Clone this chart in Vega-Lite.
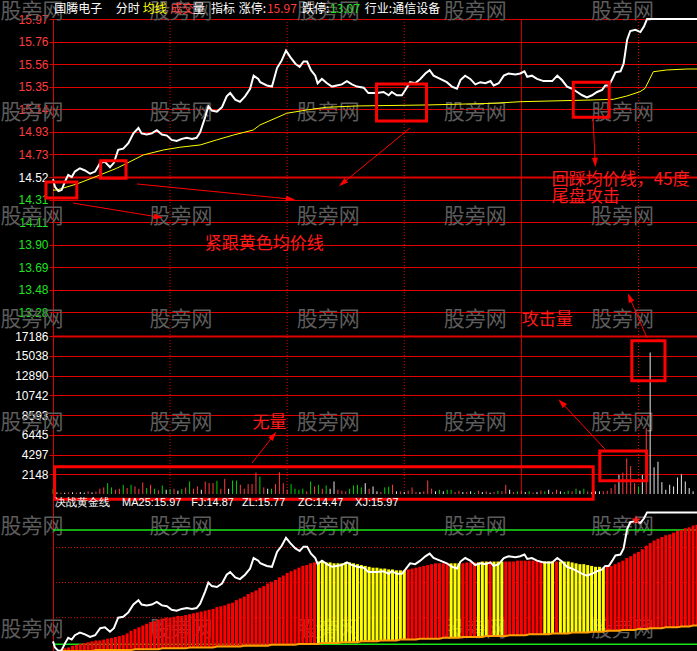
{
"$schema": "https://vega.github.io/schema/vega-lite/v6.json",
"background": "#000000",
"padding": {"left": 53, "top": 19, "right": 0, "bottom": 0},
"autosize": {"type": "none"},
"width": 644,
"height": 632,
"config": {"view": {"stroke": null}, "axis": {"title": null, "labelFont": "Liberation Sans", "labelFontSize": 12}, "text": {"font": "Noto Sans CJK SC"}},
"datasets": {
"price": [{"t":0,"p":14.50},{"t":0.5,"p":14.43},{"t":1.4,"p":14.39},{"t":2.2,"p":14.40},{"t":3.1,"p":14.48},{"t":3.9,"p":14.54},{"t":4.8,"p":14.52},{"t":5.6,"p":14.57},{"t":6.9,"p":14.60},{"t":8.2,"p":14.58},{"t":9.5,"p":14.55},{"t":10.8,"p":14.57},{"t":12.1,"p":14.65},{"t":13.3,"p":14.66},{"t":14.6,"p":14.61},{"t":15.6,"p":14.65},{"t":16.7,"p":14.77},{"t":18.0,"p":14.78},{"t":19.3,"p":14.83},{"t":20.6,"p":14.92},{"t":21.9,"p":14.97},{"t":22.7,"p":14.92},{"t":24.0,"p":14.91},{"t":25.3,"p":14.92},{"t":26.6,"p":14.95},{"t":27.9,"p":14.91},{"t":29.2,"p":14.90},{"t":30.4,"p":14.86},{"t":31.7,"p":14.85},{"t":33.0,"p":14.87},{"t":34.3,"p":14.88},{"t":35.6,"p":14.87},{"t":36.8,"p":14.88},{"t":37.7,"p":14.93},{"t":39.0,"p":15.07},{"t":39.8,"p":15.17},{"t":40.7,"p":15.13},{"t":42.0,"p":15.12},{"t":43.3,"p":15.16},{"t":44.5,"p":15.26},{"t":45.4,"p":15.29},{"t":46.7,"p":15.23},{"t":47.9,"p":15.21},{"t":49.2,"p":15.26},{"t":50.5,"p":15.33},{"t":51.4,"p":15.45},{"t":52.6,"p":15.42},{"t":53.1,"p":15.39},{"t":54.8,"p":15.36},{"t":56.1,"p":15.35},{"t":57.4,"p":15.52},{"t":58.6,"p":15.59},{"t":59.7,"p":15.68},{"t":60.8,"p":15.62},{"t":62.1,"p":15.56},{"t":63.2,"p":15.53},{"t":64.2,"p":15.58},{"t":65.1,"p":15.58},{"t":66.1,"p":15.50},{"t":67.2,"p":15.45},{"t":67.8,"p":15.38},{"t":68.9,"p":15.42},{"t":70.2,"p":15.38},{"t":71.5,"p":15.35},{"t":72.7,"p":15.36},{"t":74.0,"p":15.37},{"t":75.3,"p":15.40},{"t":76.6,"p":15.37},{"t":77.9,"p":15.35},{"t":79.6,"p":15.34},{"t":80.8,"p":15.29},{"t":83.0,"p":15.29},{"t":84.7,"p":15.30},{"t":86.0,"p":15.27},{"t":86.8,"p":15.30},{"t":88.1,"p":15.27},{"t":89.4,"p":15.27},{"t":90.3,"p":15.32},{"t":91.5,"p":15.39},{"t":92.8,"p":15.38},{"t":94.1,"p":15.42},{"t":95.4,"p":15.47},{"t":96.5,"p":15.50},{"t":97.5,"p":15.45},{"t":99.2,"p":15.42},{"t":100.9,"p":15.39},{"t":102.2,"p":15.35},{"t":103.5,"p":15.33},{"t":104.4,"p":15.41},{"t":105.6,"p":15.45},{"t":106.9,"p":15.42},{"t":108.2,"p":15.37},{"t":109.5,"p":15.39},{"t":110.8,"p":15.38},{"t":112.1,"p":15.40},{"t":112.9,"p":15.36},{"t":114.2,"p":15.38},{"t":115.5,"p":15.45},{"t":116.7,"p":15.47},{"t":118.5,"p":15.46},{"t":119.7,"p":15.47},{"t":120.8,"p":15.49},{"t":121.5,"p":15.44},{"t":122.7,"p":15.45},{"t":124.0,"p":15.42},{"t":125.7,"p":15.40},{"t":127.9,"p":15.40},{"t":129.2,"p":15.45},{"t":130.4,"p":15.41},{"t":131.7,"p":15.35},{"t":133.0,"p":15.33},{"t":134.3,"p":15.30},{"t":135.6,"p":15.27},{"t":136.8,"p":15.25},{"t":138.1,"p":15.27},{"t":139.4,"p":15.30},{"t":140.7,"p":15.32},{"t":141.5,"p":15.36},{"t":142.4,"p":15.36},{"t":143.3,"p":15.42},{"t":144.1,"p":15.48},{"t":145.4,"p":15.49},{"t":146.2,"p":15.56},{"t":147.1,"p":15.78},{"t":147.9,"p":15.86},{"t":149.2,"p":15.87},{"t":150.5,"p":15.85},{"t":151.4,"p":15.90},{"t":152.2,"p":15.97},{"t":165,"p":15.97}],
"avg": [{"t":0,"p":14.40},{"t":0.9,"p":14.40},{"t":6.1,"p":14.456},{"t":12.0,"p":14.538},{"t":16.3,"p":14.60},{"t":19.7,"p":14.66},{"t":23.1,"p":14.722},{"t":28.3,"p":14.768},{"t":32.5,"p":14.793},{"t":37.7,"p":14.814},{"t":41.9,"p":14.86},{"t":46.2,"p":14.905},{"t":51.3,"p":14.951},{"t":53.0,"p":14.997},{"t":59.9,"p":15.105},{"t":65.0,"p":15.135},{"t":70.1,"p":15.16},{"t":77.8,"p":15.172},{"t":95.7,"p":15.181},{"t":112.7,"p":15.196},{"t":119.7,"p":15.211},{"t":138.4,"p":15.227},{"t":143.6,"p":15.233},{"t":147.0,"p":15.263},{"t":150.4,"p":15.303},{"t":151.7,"p":15.334},{"t":153.8,"p":15.486},{"t":157.2,"p":15.502},{"t":162.4,"p":15.511},{"t":165,"p":15.511}],
"vol": [{"t":0,"v":573,"d":"down"},{"t":1,"v":180,"d":"flat"},{"t":2,"v":143,"d":"up"},{"t":3,"v":143,"d":"flat"},{"t":4,"v":180,"d":"up"},{"t":5,"v":180,"d":"flat"},{"t":6,"v":143,"d":"up"},{"t":7,"v":215,"d":"flat"},{"t":8,"v":143,"d":"flat"},{"t":9,"v":286,"d":"up"},{"t":10,"v":180,"d":"flat"},{"t":11,"v":250,"d":"up"},{"t":12,"v":573,"d":"up"},{"t":13,"v":716,"d":"up"},{"t":14,"v":1181,"d":"down"},{"t":15,"v":716,"d":"down"},{"t":16,"v":465,"d":"up"},{"t":17,"v":573,"d":"up"},{"t":18,"v":1002,"d":"down"},{"t":19,"v":644,"d":"up"},{"t":20,"v":1002,"d":"down"},{"t":21,"v":823,"d":"up"},{"t":22,"v":573,"d":"up"},{"t":23,"v":1253,"d":"up"},{"t":24,"v":644,"d":"down"},{"t":25,"v":1002,"d":"up"},{"t":26,"v":573,"d":"down"},{"t":27,"v":394,"d":"up"},{"t":28,"v":931,"d":"down"},{"t":29,"v":465,"d":"flat"},{"t":30,"v":537,"d":"down"},{"t":31,"v":573,"d":"up"},{"t":32,"v":358,"d":"flat"},{"t":33,"v":537,"d":"down"},{"t":34,"v":716,"d":"up"},{"t":35,"v":1360,"d":"down"},{"t":36,"v":573,"d":"up"},{"t":37,"v":823,"d":"up"},{"t":38,"v":465,"d":"flat"},{"t":39,"v":1360,"d":"up"},{"t":40,"v":1181,"d":"up"},{"t":41,"v":1181,"d":"up"},{"t":42,"v":1432,"d":"down"},{"t":43,"v":573,"d":"up"},{"t":44,"v":1647,"d":"up"},{"t":45,"v":573,"d":"flat"},{"t":46,"v":1468,"d":"down"},{"t":47,"v":1468,"d":"down"},{"t":48,"v":1002,"d":"up"},{"t":49,"v":573,"d":"up"},{"t":50,"v":1074,"d":"up"},{"t":51,"v":1074,"d":"up"},{"t":52,"v":2327,"d":"up"},{"t":53,"v":1897,"d":"down"},{"t":54,"v":716,"d":"up"},{"t":55,"v":573,"d":"flat"},{"t":56,"v":573,"d":"down"},{"t":57,"v":1074,"d":"up"},{"t":58,"v":2363,"d":"up"},{"t":59,"v":1181,"d":"up"},{"t":60,"v":465,"d":"up"},{"t":61,"v":1074,"d":"down"},{"t":62,"v":573,"d":"down"},{"t":63,"v":465,"d":"down"},{"t":64,"v":573,"d":"down"},{"t":65,"v":286,"d":"up"},{"t":66,"v":1360,"d":"down"},{"t":67,"v":823,"d":"up"},{"t":68,"v":1002,"d":"down"},{"t":69,"v":573,"d":"up"},{"t":70,"v":931,"d":"down"},{"t":71,"v":573,"d":"flat"},{"t":72,"v":1360,"d":"flat"},{"t":73,"v":465,"d":"up"},{"t":74,"v":358,"d":"up"},{"t":75,"v":286,"d":"up"},{"t":76,"v":573,"d":"down"},{"t":77,"v":931,"d":"down"},{"t":78,"v":1002,"d":"down"},{"t":79,"v":716,"d":"down"},{"t":80,"v":1181,"d":"flat"},{"t":81,"v":573,"d":"up"},{"t":82,"v":823,"d":"flat"},{"t":83,"v":286,"d":"flat"},{"t":84,"v":215,"d":"up"},{"t":85,"v":716,"d":"down"},{"t":86,"v":788,"d":"down"},{"t":87,"v":1002,"d":"up"},{"t":88,"v":286,"d":"flat"},{"t":89,"v":286,"d":"up"},{"t":90,"v":215,"d":"flat"},{"t":91,"v":358,"d":"up"},{"t":92,"v":716,"d":"up"},{"t":93,"v":215,"d":"up"},{"t":94,"v":215,"d":"flat"},{"t":95,"v":286,"d":"up"},{"t":96,"v":1468,"d":"up"},{"t":97,"v":573,"d":"up"},{"t":98,"v":286,"d":"flat"},{"t":99,"v":465,"d":"down"},{"t":100,"v":286,"d":"flat"},{"t":101,"v":465,"d":"down"},{"t":102,"v":465,"d":"down"},{"t":103,"v":215,"d":"up"},{"t":104,"v":358,"d":"up"},{"t":105,"v":215,"d":"flat"},{"t":106,"v":215,"d":"up"},{"t":107,"v":286,"d":"flat"},{"t":108,"v":143,"d":"down"},{"t":109,"v":358,"d":"up"},{"t":110,"v":215,"d":"flat"},{"t":111,"v":286,"d":"up"},{"t":112,"v":143,"d":"flat"},{"t":113,"v":215,"d":"up"},{"t":114,"v":358,"d":"down"},{"t":115,"v":286,"d":"up"},{"t":116,"v":1002,"d":"up"},{"t":117,"v":465,"d":"flat"},{"t":118,"v":215,"d":"up"},{"t":119,"v":286,"d":"down"},{"t":120,"v":358,"d":"up"},{"t":121,"v":215,"d":"flat"},{"t":122,"v":286,"d":"down"},{"t":123,"v":143,"d":"up"},{"t":124,"v":215,"d":"flat"},{"t":125,"v":358,"d":"up"},{"t":126,"v":286,"d":"down"},{"t":127,"v":465,"d":"flat"},{"t":128,"v":215,"d":"up"},{"t":129,"v":465,"d":"up"},{"t":130,"v":286,"d":"flat"},{"t":131,"v":215,"d":"down"},{"t":132,"v":358,"d":"down"},{"t":133,"v":286,"d":"up"},{"t":134,"v":573,"d":"down"},{"t":135,"v":358,"d":"flat"},{"t":136,"v":573,"d":"down"},{"t":137,"v":286,"d":"up"},{"t":138,"v":215,"d":"flat"},{"t":139,"v":286,"d":"flat"},{"t":140,"v":290,"d":"flat"},{"t":141,"v":290,"d":"up"},{"t":142,"v":355,"d":"up"},{"t":143,"v":644,"d":"up"},{"t":144,"v":1074,"d":"up"},{"t":145,"v":2076,"d":"flat"},{"t":146,"v":2327,"d":"up"},{"t":147,"v":3866,"d":"up"},{"t":148,"v":3043,"d":"up"},{"t":149,"v":1181,"d":"up"},{"t":150,"v":823,"d":"down"},{"t":151,"v":2076,"d":"flat"},{"t":152,"v":7160,"d":"up"},{"t":153,"v":15395,"d":"flat"},{"t":154,"v":2900,"d":"flat"},{"t":155,"v":3508,"d":"flat"},{"t":156,"v":1289,"d":"flat"},{"t":157,"v":465,"d":"flat"},{"t":158,"v":1002,"d":"flat"},{"t":159,"v":823,"d":"flat"},{"t":160,"v":1790,"d":"flat"},{"t":161,"v":2148,"d":"flat"},{"t":162,"v":1360,"d":"flat"},{"t":163,"v":644,"d":"flat"},{"t":164,"v":286,"d":"flat"}],
"gold": [{"t":1,"lo":14.39,"hi":14.39,"k":"up"},{"t":2,"lo":14.39,"hi":14.40,"k":"up"},{"t":3,"lo":14.39,"hi":14.42,"k":"up"},{"t":4,"lo":14.39,"hi":14.43,"k":"up"},{"t":5,"lo":14.39,"hi":14.45,"k":"up"},{"t":6,"lo":14.39,"hi":14.46,"k":"up"},{"t":7,"lo":14.39,"hi":14.47,"k":"up"},{"t":8,"lo":14.39,"hi":14.48,"k":"up"},{"t":9,"lo":14.39,"hi":14.49,"k":"up"},{"t":10,"lo":14.39,"hi":14.50,"k":"up"},{"t":11,"lo":14.40,"hi":14.51,"k":"up"},{"t":12,"lo":14.40,"hi":14.51,"k":"up"},{"t":13,"lo":14.40,"hi":14.52,"k":"up"},{"t":14,"lo":14.40,"hi":14.53,"k":"up"},{"t":15,"lo":14.40,"hi":14.54,"k":"up"},{"t":16,"lo":14.40,"hi":14.55,"k":"up"},{"t":17,"lo":14.40,"hi":14.56,"k":"up"},{"t":18,"lo":14.40,"hi":14.57,"k":"up"},{"t":19,"lo":14.40,"hi":14.59,"k":"up"},{"t":20,"lo":14.40,"hi":14.62,"k":"up"},{"t":21,"lo":14.41,"hi":14.64,"k":"up"},{"t":22,"lo":14.41,"hi":14.66,"k":"up"},{"t":23,"lo":14.41,"hi":14.68,"k":"up"},{"t":24,"lo":14.41,"hi":14.70,"k":"up"},{"t":25,"lo":14.41,"hi":14.72,"k":"up"},{"t":26,"lo":14.41,"hi":14.73,"k":"up"},{"t":27,"lo":14.41,"hi":14.75,"k":"up"},{"t":28,"lo":14.42,"hi":14.76,"k":"up"},{"t":29,"lo":14.42,"hi":14.77,"k":"up"},{"t":30,"lo":14.42,"hi":14.77,"k":"up"},{"t":31,"lo":14.42,"hi":14.78,"k":"up"},{"t":32,"lo":14.42,"hi":14.79,"k":"up"},{"t":33,"lo":14.42,"hi":14.79,"k":"up"},{"t":34,"lo":14.42,"hi":14.80,"k":"up"},{"t":35,"lo":14.43,"hi":14.81,"k":"up"},{"t":36,"lo":14.43,"hi":14.82,"k":"up"},{"t":37,"lo":14.43,"hi":14.83,"k":"up"},{"t":38,"lo":14.43,"hi":14.84,"k":"up"},{"t":39,"lo":14.43,"hi":14.85,"k":"up"},{"t":40,"lo":14.43,"hi":14.86,"k":"up"},{"t":41,"lo":14.43,"hi":14.87,"k":"up"},{"t":42,"lo":14.44,"hi":14.89,"k":"up"},{"t":43,"lo":14.44,"hi":14.90,"k":"up"},{"t":44,"lo":14.44,"hi":14.91,"k":"up"},{"t":45,"lo":14.44,"hi":14.93,"k":"up"},{"t":46,"lo":14.44,"hi":14.94,"k":"up"},{"t":47,"lo":14.44,"hi":14.97,"k":"up"},{"t":48,"lo":14.44,"hi":14.99,"k":"up"},{"t":49,"lo":14.45,"hi":15.01,"k":"up"},{"t":50,"lo":14.45,"hi":15.04,"k":"up"},{"t":51,"lo":14.45,"hi":15.06,"k":"up"},{"t":52,"lo":14.45,"hi":15.08,"k":"up"},{"t":53,"lo":14.45,"hi":15.11,"k":"up"},{"t":54,"lo":14.45,"hi":15.13,"k":"up"},{"t":55,"lo":14.45,"hi":15.16,"k":"up"},{"t":56,"lo":14.46,"hi":15.18,"k":"up"},{"t":57,"lo":14.46,"hi":15.20,"k":"up"},{"t":58,"lo":14.46,"hi":15.23,"k":"up"},{"t":59,"lo":14.46,"hi":15.25,"k":"up"},{"t":60,"lo":14.46,"hi":15.28,"k":"up"},{"t":61,"lo":14.46,"hi":15.30,"k":"up"},{"t":62,"lo":14.46,"hi":15.32,"k":"up"},{"t":63,"lo":14.47,"hi":15.34,"k":"up"},{"t":64,"lo":14.47,"hi":15.36,"k":"up"},{"t":65,"lo":14.47,"hi":15.37,"k":"up"},{"t":66,"lo":14.47,"hi":15.39,"k":"up"},{"t":67,"lo":14.47,"hi":15.40,"k":"up"},{"t":68,"lo":14.47,"hi":15.41,"k":"dn"},{"t":69,"lo":14.48,"hi":15.41,"k":"dn"},{"t":70,"lo":14.48,"hi":15.40,"k":"dn"},{"t":71,"lo":14.48,"hi":15.40,"k":"dn"},{"t":72,"lo":14.48,"hi":15.39,"k":"dn"},{"t":73,"lo":14.48,"hi":15.39,"k":"dn"},{"t":74,"lo":14.49,"hi":15.39,"k":"dn"},{"t":75,"lo":14.49,"hi":15.40,"k":"dn"},{"t":76,"lo":14.49,"hi":15.40,"k":"dn"},{"t":77,"lo":14.49,"hi":15.39,"k":"dn"},{"t":78,"lo":14.49,"hi":15.38,"k":"dn"},{"t":79,"lo":14.50,"hi":15.37,"k":"dn"},{"t":80,"lo":14.50,"hi":15.36,"k":"dn"},{"t":81,"lo":14.50,"hi":15.35,"k":"dn"},{"t":82,"lo":14.50,"hi":15.34,"k":"dn"},{"t":83,"lo":14.50,"hi":15.34,"k":"dn"},{"t":84,"lo":14.51,"hi":15.33,"k":"dn"},{"t":85,"lo":14.51,"hi":15.33,"k":"dn"},{"t":86,"lo":14.51,"hi":15.32,"k":"dn"},{"t":87,"lo":14.51,"hi":15.32,"k":"dn"},{"t":88,"lo":14.51,"hi":15.31,"k":"dn"},{"t":89,"lo":14.52,"hi":15.31,"k":"dn"},{"t":90,"lo":14.52,"hi":15.31,"k":"dn"},{"t":91,"lo":14.52,"hi":15.32,"k":"up"},{"t":92,"lo":14.52,"hi":15.33,"k":"up"},{"t":93,"lo":14.52,"hi":15.34,"k":"up"},{"t":94,"lo":14.53,"hi":15.35,"k":"up"},{"t":95,"lo":14.53,"hi":15.36,"k":"up"},{"t":96,"lo":14.53,"hi":15.37,"k":"up"},{"t":97,"lo":14.53,"hi":15.38,"k":"up"},{"t":98,"lo":14.53,"hi":15.39,"k":"up"},{"t":99,"lo":14.53,"hi":15.39,"k":"up"},{"t":100,"lo":14.54,"hi":15.39,"k":"up"},{"t":101,"lo":14.54,"hi":15.39,"k":"up"},{"t":102,"lo":14.54,"hi":15.39,"k":"dn"},{"t":103,"lo":14.54,"hi":15.39,"k":"dn"},{"t":104,"lo":14.54,"hi":15.39,"k":"dn"},{"t":105,"lo":14.55,"hi":15.39,"k":"up"},{"t":106,"lo":14.55,"hi":15.40,"k":"up"},{"t":107,"lo":14.55,"hi":15.40,"k":"up"},{"t":108,"lo":14.55,"hi":15.40,"k":"up"},{"t":109,"lo":14.55,"hi":15.40,"k":"dn"},{"t":110,"lo":14.55,"hi":15.41,"k":"dn"},{"t":111,"lo":14.56,"hi":15.41,"k":"dn"},{"t":112,"lo":14.56,"hi":15.41,"k":"up"},{"t":113,"lo":14.56,"hi":15.41,"k":"dn"},{"t":114,"lo":14.56,"hi":15.41,"k":"dn"},{"t":115,"lo":14.56,"hi":15.41,"k":"dn"},{"t":116,"lo":14.56,"hi":15.41,"k":"up"},{"t":117,"lo":14.57,"hi":15.41,"k":"up"},{"t":118,"lo":14.57,"hi":15.41,"k":"up"},{"t":119,"lo":14.57,"hi":15.42,"k":"up"},{"t":120,"lo":14.57,"hi":15.42,"k":"up"},{"t":121,"lo":14.57,"hi":15.42,"k":"up"},{"t":122,"lo":14.58,"hi":15.42,"k":"up"},{"t":123,"lo":14.58,"hi":15.42,"k":"up"},{"t":124,"lo":14.58,"hi":15.42,"k":"up"},{"t":125,"lo":14.58,"hi":15.41,"k":"up"},{"t":126,"lo":14.58,"hi":15.41,"k":"dn"},{"t":127,"lo":14.58,"hi":15.41,"k":"dn"},{"t":128,"lo":14.59,"hi":15.41,"k":"dn"},{"t":129,"lo":14.59,"hi":15.41,"k":"up"},{"t":130,"lo":14.59,"hi":15.41,"k":"dn"},{"t":131,"lo":14.59,"hi":15.41,"k":"dn"},{"t":132,"lo":14.59,"hi":15.41,"k":"dn"},{"t":133,"lo":14.60,"hi":15.40,"k":"dn"},{"t":134,"lo":14.60,"hi":15.39,"k":"dn"},{"t":135,"lo":14.60,"hi":15.38,"k":"dn"},{"t":136,"lo":14.60,"hi":15.38,"k":"dn"},{"t":137,"lo":14.60,"hi":15.37,"k":"dn"},{"t":138,"lo":14.61,"hi":15.36,"k":"dn"},{"t":139,"lo":14.61,"hi":15.35,"k":"dn"},{"t":140,"lo":14.61,"hi":15.35,"k":"dn"},{"t":141,"lo":14.61,"hi":15.34,"k":"dn"},{"t":142,"lo":14.62,"hi":15.35,"k":"up"},{"t":143,"lo":14.62,"hi":15.36,"k":"up"},{"t":144,"lo":14.62,"hi":15.38,"k":"up"},{"t":145,"lo":14.62,"hi":15.40,"k":"up"},{"t":146,"lo":14.63,"hi":15.42,"k":"up"},{"t":147,"lo":14.63,"hi":15.45,"k":"up"},{"t":148,"lo":14.63,"hi":15.47,"k":"up"},{"t":149,"lo":14.63,"hi":15.50,"k":"up"},{"t":150,"lo":14.64,"hi":15.52,"k":"up"},{"t":151,"lo":14.64,"hi":15.55,"k":"up"},{"t":152,"lo":14.64,"hi":15.59,"k":"up"},{"t":153,"lo":14.65,"hi":15.62,"k":"up"},{"t":154,"lo":14.65,"hi":15.65,"k":"up"},{"t":155,"lo":14.65,"hi":15.67,"k":"up"},{"t":156,"lo":14.65,"hi":15.69,"k":"up"},{"t":157,"lo":14.66,"hi":15.71,"k":"up"},{"t":158,"lo":14.66,"hi":15.72,"k":"up"},{"t":159,"lo":14.66,"hi":15.74,"k":"up"},{"t":160,"lo":14.66,"hi":15.76,"k":"up"},{"t":161,"lo":14.67,"hi":15.77,"k":"up"},{"t":162,"lo":14.67,"hi":15.79,"k":"up"},{"t":163,"lo":14.67,"hi":15.80,"k":"up"},{"t":164,"lo":14.68,"hi":15.82,"k":"up"},{"t":165,"lo":14.68,"hi":15.83,"k":"up"}],
"vg": [{"t":30,"s":"dot"},{"t":60,"s":"dot"},{"t":90,"s":"dot"},{"t":120,"s":"solid"},{"t":150,"s":"dot"}],
"wm1": [{"t":-5.4,"p":16.034},{"t":32.8,"p":16.034},{"t":70.5,"p":16.034},{"t":108.2,"p":16.034},{"t":145.9,"p":16.034},{"t":-5.4,"p":15.107},{"t":32.8,"p":15.107},{"t":70.5,"p":15.107},{"t":108.2,"p":15.107},{"t":145.9,"p":15.107},{"t":-5.4,"p":14.153},{"t":32.8,"p":14.153},{"t":70.5,"p":14.153},{"t":108.2,"p":14.153},{"t":145.9,"p":14.153},{"t":-5.4,"p":13.208},{"t":32.8,"p":13.208},{"t":70.5,"p":13.208},{"t":108.2,"p":13.208},{"t":145.9,"p":13.208}],
"wm2": [{"t":-5.4,"v":7674},{"t":32.8,"v":7674},{"t":70.5,"v":7674},{"t":108.2,"v":7674},{"t":145.9,"v":7674}],
"wm3": [{"t":-5.4,"p":15.804},{"t":32.8,"p":15.804},{"t":70.5,"p":15.804},{"t":108.2,"p":15.804},{"t":145.9,"p":15.804},{"t":-5.4,"p":14.629},{"t":32.8,"p":14.629},{"t":70.5,"p":14.629},{"t":108.2,"p":14.629},{"t":145.9,"p":14.629}],
"hdr": [{"t":0.3,"s":"国腾电子","kind":"flat"},{"t":16.1,"s":"分时","kind":"flat"},{"t":23.0,"s":"均线","kind":"avg"},{"t":30.0,"s":"成交","kind":"up"},{"t":35.9,"s":"量","kind":"flat"},{"t":40.5,"s":"指标","kind":"flat"},{"t":47.6,"s":"涨停:","kind":"flat"},{"t":54.8,"s":"15.97","kind":"up"},{"t":63.8,"s":"跌停:","kind":"flat"},{"t":71.0,"s":"13.07","kind":"down"},{"t":79.9,"s":"行业:通信设备","kind":"flat"}],
"box1": [{"t":-1.8,"t2":6.1,"p":14.474,"p2":14.327},{"t":12.2,"t2":18.7,"p":14.670,"p2":14.508},{"t":82.9,"t2":95.7,"p":15.373,"p2":15.034},{"t":133.3,"t2":142.5,"p":15.389,"p2":15.068}],
"box2": [{"t":0.4,"t2":138.4,"v":2970,"v2":-577},{"t":140.1,"t2":152.1,"v":4678,"v2":1447},{"t":148.3,"t2":156.8,"v":16679,"v2":12327}],
"arr1": [{"t":5.1,"p":14.281,"t2":26.9,"p2":14.153,"deg":99},{"t":21.5,"p":14.456,"t2":60.7,"p2":14.318,"deg":96},{"t":91.5,"p":14.970,"t2":74.3,"p2":14.465,"deg":231},{"t":138.4,"p":15.043,"t2":138.9,"p2":14.658,"deg":177}],
"arr2": [{"t":51.0,"v":3373,"t2":56.4,"v2":6310,"deg":38},{"t":141.4,"v":4896,"t2":130.4,"v2":9901,"deg":317},{"t":152.2,"v":16973,"t2":147.8,"v2":21325,"deg":337}],
"note1": [{"t":38.9,"p":13.905,"s":"紧跟黄色均价线"},{"t":127.8,"p":14.488,"s":"回踩均价线，45度"},{"t":127.8,"p":14.332,"s":"尾盘攻击"},{"t":120.1,"p":13.208,"s":"攻击量"}],
"note2": [{"t":51.1,"v":7779,"s":"无量"}],
"ttl3": [{"t":0.5,"s":"决战黄金线"},{"t":17.7,"s":"MA25:15.97"},{"t":35.4,"s":"FJ:14.87"},{"t":48.4,"s":"ZL:15.77"},{"t":62.8,"s":"ZC:14.47"},{"t":77.4,"s":"XJ:15.97"}],
"lvl3g": [{"t":0,"t2":165,"p":15.77},{"t":0,"t2":165,"p":14.466}],
"lvl3r": [{"t":0,"t2":165,"p":15.57},{"t":0,"t2":165,"p":15.17},{"t":0,"t2":165,"p":14.77}],
"star3": [{"t":149.4,"p":15.883}]
},
"encoding": {"x": {"field": "t", "type": "quantitative", "scale": {"domain": [0, 165], "nice": false, "zero": false}, "axis": null}},
"resolve": {"scale": {"y": "independent", "color": "independent"}, "axis": {"y": "independent"}},
"layer": [
{
"layer": [
{"data": {"name": "wm1"}, "mark": {"type": "text", "text": "股旁网", "fontSize": 21, "color": "#5c5c5c", "clip": false, "baseline": "middle", "align": "center"},
 "encoding": {
  "y": {"field": "p", "type": "quantitative", "scale": {"domain": [13.07, 15.97], "range": [316, 0], "nice": false, "zero": false},
        "axis": {"orient": "left", "values": [15.97, 15.7629, 15.5557, 15.3486, 15.1414, 14.9343, 14.7271, 14.52, 14.3129, 14.1057, 13.8986, 13.6914, 13.4843, 13.2771], "format": ".2f", "domainColor": "#e00000", "tickColor": "#e00000", "tickSize": 4, "labelPadding": 1, "labelOverlap": false,
                 "labelColor": {"condition": [{"test": "datum.value > 14.53", "value": "#ff3c3c"}, {"test": "datum.value < 14.51", "value": "#22e022"}], "value": "#ffffff"},
                 "grid": true, "gridColor": "#e00000", "gridWidth": {"condition": {"test": "abs(datum.value - 14.52) < 0.001", "value": 2}, "value": 1}, "title": null}}
 }},
{"data": {"name": "vg"}, "mark": {"type": "rule", "color": "#e00000", "strokeWidth": 1},
 "encoding": {"y": {"datum": 13.07, "type": "quantitative"}, "y2": {"datum": 15.97},
  "strokeDash": {"field": "s", "type": "nominal", "scale": {"domain": ["dot", "solid"], "range": [[1, 2], [1, 0]]}, "legend": null}}},
{"data": {"name": "avg"}, "mark": {"type": "line", "color": "#ffff00", "strokeWidth": 1},
 "encoding": {"y": {"field": "p", "type": "quantitative"}}},
{"data": {"name": "price"}, "mark": {"type": "line", "color": "#ffffff", "strokeWidth": 2},
 "encoding": {"y": {"field": "p", "type": "quantitative"}}},
{"data": {"name": "box1"}, "mark": {"type": "rect", "fillOpacity": 0, "stroke": "#ff0000", "strokeWidth": 3, "clip": false},
 "encoding": {"x2": {"field": "t2"}, "y": {"field": "p", "type": "quantitative"}, "y2": {"field": "p2"}}},
{"data": {"name": "arr1"}, "mark": {"type": "rule", "color": "#ff0000", "strokeWidth": 1, "clip": false},
 "encoding": {"x2": {"field": "t2"}, "y": {"field": "p", "type": "quantitative"}, "y2": {"field": "p2"}}},
{"data": {"name": "arr1"}, "mark": {"type": "point", "shape": "M0,-1L0.55,0.8L-0.55,0.8Z", "filled": true, "color": "#ff0000", "opacity": 1, "size": 110, "clip": false},
 "encoding": {"x": {"field": "t2", "type": "quantitative", "axis": null}, "y": {"field": "p2", "type": "quantitative"}, "angle": {"field": "deg", "type": "quantitative", "scale": null}}},
{"data": {"name": "note1"}, "mark": {"type": "text", "fontSize": 17, "color": "#ff1a1a", "align": "left", "baseline": "middle", "clip": false},
 "encoding": {"y": {"field": "p", "type": "quantitative"}, "text": {"field": "s"}}},
{"data": {"name": "hdr"}, "mark": {"type": "text", "fontSize": 12, "align": "left", "baseline": "middle", "clip": false},
 "encoding": {"y": {"datum": 16.062, "type": "quantitative"}, "text": {"field": "s"},
  "color": {"field": "kind", "type": "nominal", "scale": {"domain": ["up", "down", "flat", "avg"], "range": ["#ff3c3c", "#22e022", "#ffffff", "#ffff00"]}, "legend": null}}}
]
},
{
"layer": [
{"data": {"name": "wm2"}, "mark": {"type": "text", "text": "股旁网", "fontSize": 21, "color": "#5c5c5c", "clip": false, "baseline": "middle", "align": "center"},
 "encoding": {
  "y": {"field": "v", "type": "quantitative", "scale": {"domain": [0, 17300], "range": [475, 316], "nice": false, "zero": false},
        "axis": {"orient": "left", "values": [2148, 4297, 6445, 8593, 10742, 12890, 15038, 17186], "format": "d", "domainColor": "#e00000", "tickColor": "#e00000", "tickSize": 4, "labelPadding": 1, "labelOverlap": false, "labelColor": "#ffffff",
                 "grid": true, "gridColor": "#e00000", "gridWidth": {"condition": {"test": "datum.value == 17186", "value": 2}, "value": 1}, "title": null}}
 }},
{"data": {"name": "vg"}, "mark": {"type": "rule", "color": "#e00000", "strokeWidth": 1},
 "encoding": {"y": {"datum": 0, "type": "quantitative"}, "y2": {"datum": 17300},
  "strokeDash": {"field": "s", "type": "nominal", "scale": {"domain": ["dot", "solid"], "range": [[1, 2], [1, 0]]}, "legend": null}}},
{"data": {"name": "vol"}, "mark": {"type": "rule", "strokeWidth": 1},
 "encoding": {"y": {"field": "v", "type": "quantitative"}, "y2": {"datum": 0},
  "color": {"field": "d", "type": "nominal", "scale": {"domain": ["up", "down", "flat"], "range": ["#ff3c3c", "#00d000", "#e6e6e6"]}, "legend": null}}},
{"data": {"name": "box2"}, "mark": {"type": "rect", "fillOpacity": 0, "stroke": "#ff0000", "strokeWidth": 3, "clip": false},
 "encoding": {"x2": {"field": "t2"}, "y": {"field": "v", "type": "quantitative"}, "y2": {"field": "v2"}}},
{"data": {"name": "arr2"}, "mark": {"type": "rule", "color": "#ff0000", "strokeWidth": 1, "clip": false},
 "encoding": {"x2": {"field": "t2"}, "y": {"field": "v", "type": "quantitative"}, "y2": {"field": "v2"}}},
{"data": {"name": "arr2"}, "mark": {"type": "point", "shape": "M0,-1L0.55,0.8L-0.55,0.8Z", "filled": true, "color": "#ff0000", "opacity": 1, "size": 110, "clip": false},
 "encoding": {"x": {"field": "t2", "type": "quantitative", "axis": null}, "y": {"field": "v2", "type": "quantitative"}, "angle": {"field": "deg", "type": "quantitative", "scale": null}}},
{"data": {"name": "note2"}, "mark": {"type": "text", "fontSize": 17, "color": "#ff1a1a", "align": "left", "baseline": "middle", "clip": false},
 "encoding": {"y": {"field": "v", "type": "quantitative"}, "text": {"field": "s"}}}
]
},
{
"layer": [
{"data": {"name": "wm3"}, "mark": {"type": "text", "text": "股旁网", "fontSize": 21, "color": "#5c5c5c", "clip": false, "baseline": "middle", "align": "center"},
 "encoding": {
  "y": {"field": "p", "type": "quantitative", "scale": {"domain": [14.39, 16.18], "range": [632, 475], "nice": false, "zero": false},
        "axis": {"orient": "left", "labels": false, "ticks": false, "grid": false, "domainColor": "#e00000", "title": null}}
 }},
{"data": {"name": "lvl3g"}, "mark": {"type": "rule", "color": "#19e619", "strokeWidth": 1.5},
 "encoding": {"x2": {"field": "t2"}, "y": {"field": "p", "type": "quantitative"}}},
{"data": {"name": "lvl3r"}, "mark": {"type": "rule", "color": "#e00000", "strokeWidth": 1, "strokeDash": [1, 2]},
 "encoding": {"x2": {"field": "t2"}, "y": {"field": "p", "type": "quantitative"}}},
{"data": {"name": "gold"}, "mark": {"type": "rule", "strokeWidth": 3, "clip": false},
 "encoding": {"y": {"field": "lo", "type": "quantitative"}, "y2": {"field": "hi"},
  "color": {"field": "k", "type": "nominal", "scale": {"domain": ["up", "dn"], "range": ["#ff0000", "#ffff00"]}, "legend": null}}},
{"data": {"name": "gold"}, "mark": {"type": "line", "color": "#ffa000", "strokeWidth": 2, "clip": false},
 "encoding": {"y": {"field": "lo", "type": "quantitative"}}},
{"data": {"name": "price"}, "mark": {"type": "line", "color": "#ffffff", "strokeWidth": 2, "clip": false},
 "encoding": {"y": {"field": "p", "type": "quantitative"}}},
{"data": {"name": "star3"}, "mark": {"type": "point", "shape": "M0,-1L0.2245,-0.309L0.951,-0.309L0.363,0.118L0.588,0.809L0,0.382L-0.588,0.809L-0.363,0.118L-0.951,-0.309L-0.2245,-0.309Z", "filled": true, "color": "#ff2020", "opacity": 1, "size": 110},
 "encoding": {"y": {"field": "p", "type": "quantitative"}}},
{"data": {"name": "ttl3"}, "mark": {"type": "text", "fontSize": 11, "font": "Liberation Sans", "color": "#ffffff", "align": "left", "baseline": "middle", "clip": false},
 "encoding": {"y": {"datum": 16.077, "type": "quantitative"}, "text": {"field": "s"}}}
]
}
]
}
